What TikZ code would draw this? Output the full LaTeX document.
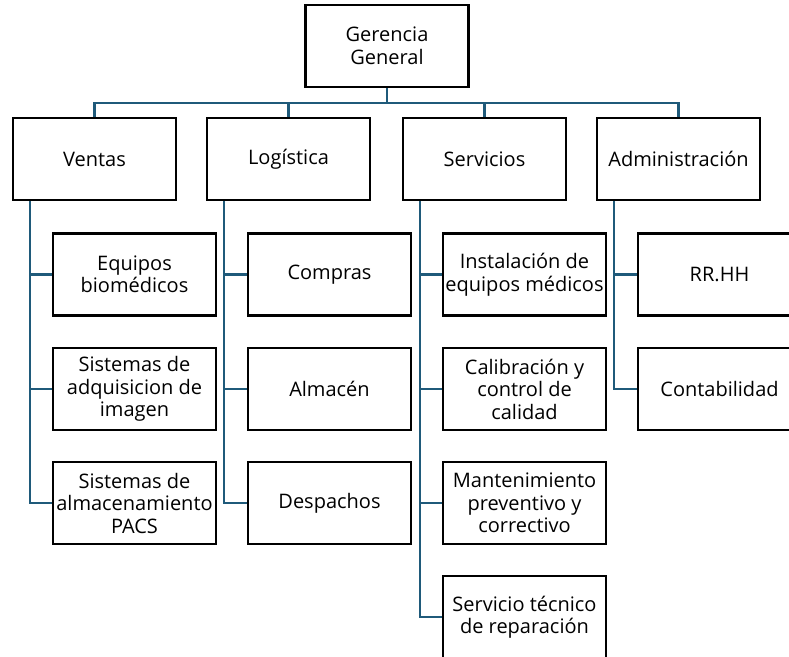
\documentclass[tikz,border=0pt]{standalone}
\usepackage{fontspec}
\setmainfont{Open Sans}
\definecolor{conn}{HTML}{1F5A7A}
\begin{document}
\begin{tikzpicture}[x=1pt,y=-1pt,
  box/.style={draw=black,line width=2.2pt,fill=white,minimum width=163pt,minimum height=82pt,
    inner sep=0pt,align=center,font=\fontsize{20}{22.5}\selectfont},
  link/.style={draw=conn,line width=2.4pt}]
\useasboundingbox (0,0) rectangle (789,656);
\clip (0,0) rectangle (789,656);
\coordinate (bar) at (387,103);
% top and main boxes
\node[box] (gg) at (387,46) {Gerencia\\General};
\node[box] (ven) at (94.5,159) {Ventas};
\node[box] (log) at (288.5,159) {Logística};
\node[box] (ser) at (484.5,159) {Servicios};
\node[box] (adm) at (678.5,159) {Administración};
% children
\node[box] (v1) at (134.5,274.5) {Equipos\\biomédicos};
\node[box] (v2) at (134.5,389) {Sistemas de\\adquisicion de\\imagen};
\node[box] (v3) at (134.5,503) {Sistemas de\\almacenamiento\\PACS};
\node[box] (l1) at (329.5,274.5) {Compras};
\node[box] (l2) at (329.5,389) {Almacén};
\node[box] (l3) at (329.5,503) {Despachos};
\node[box] (s1) at (524.5,274.5) {Instalación de\\equipos médicos};
\node[box] (s2) at (524.5,389) {Calibración y\\control de\\calidad};
\node[box] (s3) at (524.5,503) {Mantenimiento\\preventivo y\\correctivo};
\node[box] (s4) at (524.5,617) {Servicio técnico\\de reparación};
\node[box] (a1) at (719.5,274.5) {RR.HH};
\node[box] (a2) at (719.5,389) {Contabilidad};
% connectors
\draw[link] (gg.south) -- (bar);
\draw[link] (ven.north) -- (ven.north |- bar) -- (adm.north |- bar) -- (adm.north);
\draw[link] (log.north) -- (log.north |- bar);
\draw[link] (ser.north) -- (ser.north |- bar);
\foreach \p/\c/\x in {ven/v3/30,log/l3/224,ser/s4/420,adm/a2/614}{
  \draw[link] (\x,0 |- \p.south) -- (\x,0 |- \c.west) -- (\c.west);
}
\foreach \c/\x in {v1/30,v2/30,l1/224,l2/224,s1/420,s2/420,s3/420,a1/614}{
  \draw[link] (\x,0 |- \c.west) -- (\c.west);
}
\end{tikzpicture}
\end{document}
